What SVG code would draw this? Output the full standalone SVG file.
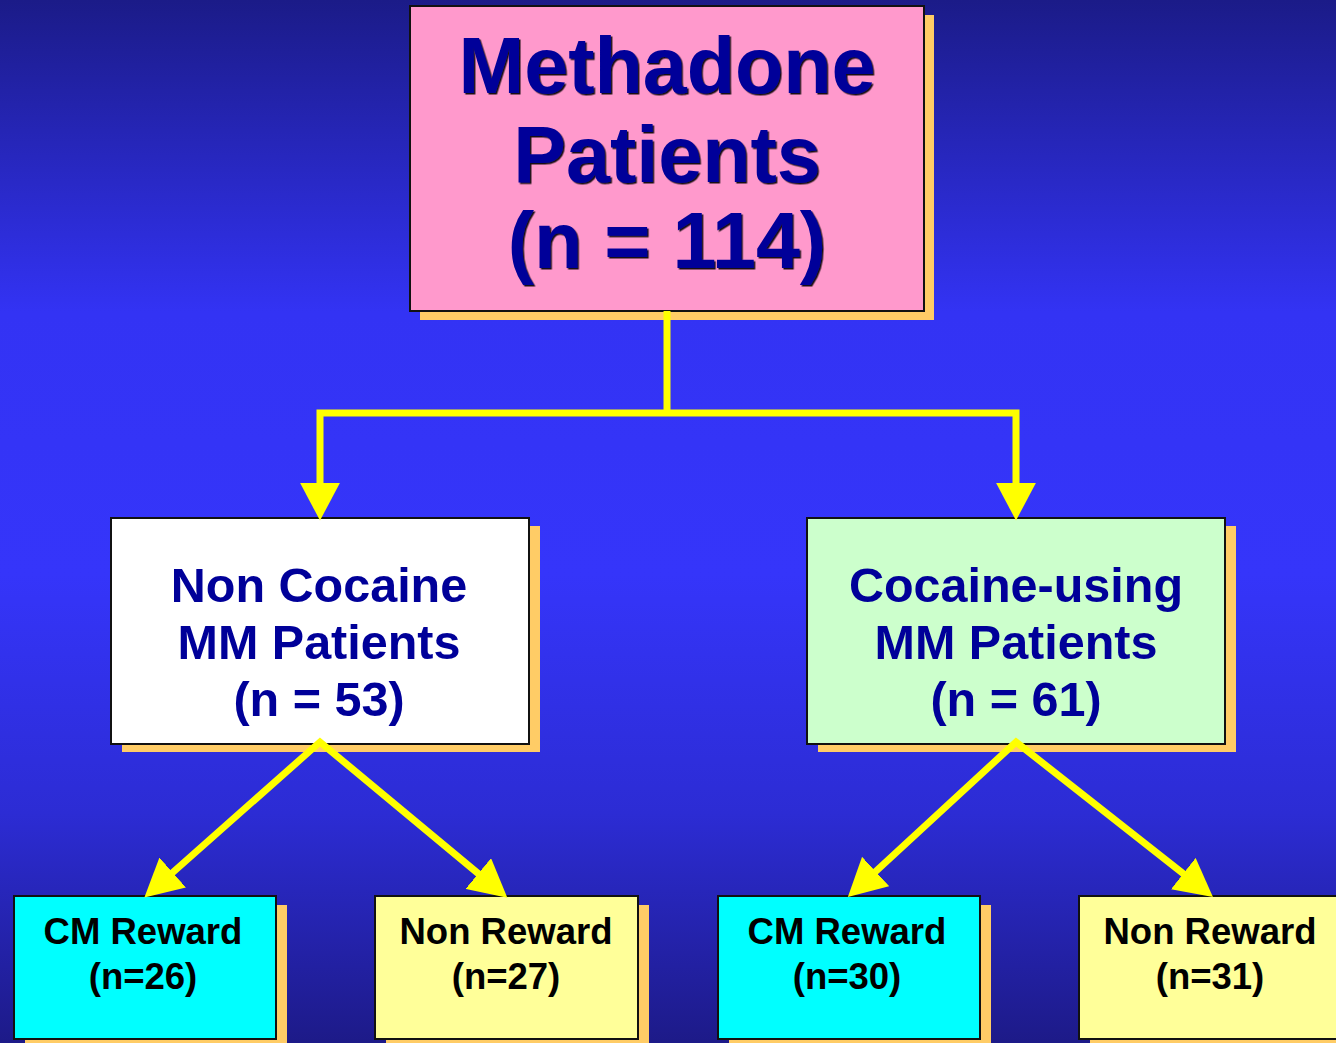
<svg xmlns="http://www.w3.org/2000/svg" width="1336" height="1043" viewBox="0 0 1336 1043">
  <defs>
    <linearGradient id="bg" x1="0" y1="0" x2="0" y2="1">
      <stop offset="0" stop-color="#1b1b88"/>
      <stop offset="0.3" stop-color="#3333f4"/>
      <stop offset="0.55" stop-color="#3535fa"/>
      <stop offset="0.78" stop-color="#2c2cd4"/>
      <stop offset="1" stop-color="#1d1a88"/>
    </linearGradient>
    <filter id="tshadow" x="-5%" y="-5%" width="110%" height="120%">
      <feDropShadow dx="1.5" dy="1.5" stdDeviation="0" flood-color="#000000" flood-opacity="0.9"/>
    </filter>
    <marker id="arrow" markerUnits="userSpaceOnUse" markerWidth="40" markerHeight="40" viewBox="0 0 36 36" refX="2" refY="18" orient="auto-start-reverse">
      <path d="M0,0 L34,18 L0,36 Z" fill="#ffff00"/>
    </marker>
  </defs>
  <style>
    .shadow { fill: #ffcc66; }
    .box { stroke: #111111; stroke-width: 2; }
    .navy { fill: #000099; font-family: "Liberation Sans", Arial, sans-serif; font-weight: bold; text-anchor: middle; }
    .blk { fill: #000000; font-family: "Liberation Sans", Arial, sans-serif; font-weight: bold; text-anchor: middle; font-size: 36.5px; }
    .conn { fill: none; stroke: #ffff00; stroke-width: 7; stroke-linejoin: miter; }
  </style>

  <rect x="0" y="0" width="1336" height="1043" fill="url(#bg)"/>

  <g id="node-methadone">
    <rect class="shadow" x="420" y="15" width="514" height="305"/>
    <rect class="box" x="410" y="6" width="514" height="305" fill="#ff99cc"/>
    <g filter="url(#tshadow)">
      <text class="navy" x="667" y="93" font-size="79">Methadone</text>
      <text class="navy" x="667" y="182" font-size="79">Patients</text>
      <text class="navy" x="667" y="268" font-size="79">(n = 114)</text>
    </g>
  </g>

  <g id="node-noncocaine">
    <rect class="shadow" x="122" y="526" width="418" height="226"/>
    <rect class="box" x="111" y="518" width="418" height="226" fill="#ffffff"/>
    <text class="navy" x="319" y="602" font-size="48.5">Non Cocaine</text>
    <text class="navy" x="319" y="659" font-size="48.5">MM Patients</text>
    <text class="navy" x="319" y="716" font-size="48.5">(n = 53)</text>
  </g>

  <g id="node-cocaine">
    <rect class="shadow" x="818" y="526" width="418" height="226"/>
    <rect class="box" x="807" y="518" width="418" height="226" fill="#ccffcc"/>
    <text class="navy" x="1016" y="602" font-size="48.5">Cocaine-using</text>
    <text class="navy" x="1016" y="659" font-size="48.5">MM Patients</text>
    <text class="navy" x="1016" y="716" font-size="48.5">(n = 61)</text>
  </g>

  <g id="node-cm1">
    <rect class="shadow" x="25" y="905" width="262" height="145"/>
    <rect class="box" x="14" y="896" width="262" height="143" fill="#00ffff"/>
    <text class="blk" x="143" y="944">CM Reward</text>
    <text class="blk" x="143" y="989">(n=26)</text>
  </g>

  <g id="node-non1">
    <rect class="shadow" x="386" y="905" width="263" height="145"/>
    <rect class="box" x="375" y="896" width="263" height="143" fill="#ffff99"/>
    <text class="blk" x="506" y="944">Non Reward</text>
    <text class="blk" x="506" y="989">(n=27)</text>
  </g>

  <g id="node-cm2">
    <rect class="shadow" x="729" y="905" width="262" height="145"/>
    <rect class="box" x="718" y="896" width="262" height="143" fill="#00ffff"/>
    <text class="blk" x="847" y="944">CM Reward</text>
    <text class="blk" x="847" y="989">(n=30)</text>
  </g>

  <g id="node-non2">
    <rect class="shadow" x="1090" y="905" width="262" height="145"/>
    <rect class="box" x="1079" y="896" width="262" height="143" fill="#ffff99"/>
    <text class="blk" x="1210" y="944">Non Reward</text>
    <text class="blk" x="1210" y="989">(n=31)</text>
  </g>

  <g id="connectors">
    <path class="conn" d="M667,311 L667,413"/>
    <path class="conn" d="M320,485 L320,413 L1016,413 L1016,485" marker-start="url(#arrow)" marker-end="url(#arrow)"/>
    <path class="conn" d="M171,874 L320,742 L480,875" marker-start="url(#arrow)" marker-end="url(#arrow)"/>
    <path class="conn" d="M874,873 L1016,742 L1185,875" marker-start="url(#arrow)" marker-end="url(#arrow)"/>
  </g>
</svg>
